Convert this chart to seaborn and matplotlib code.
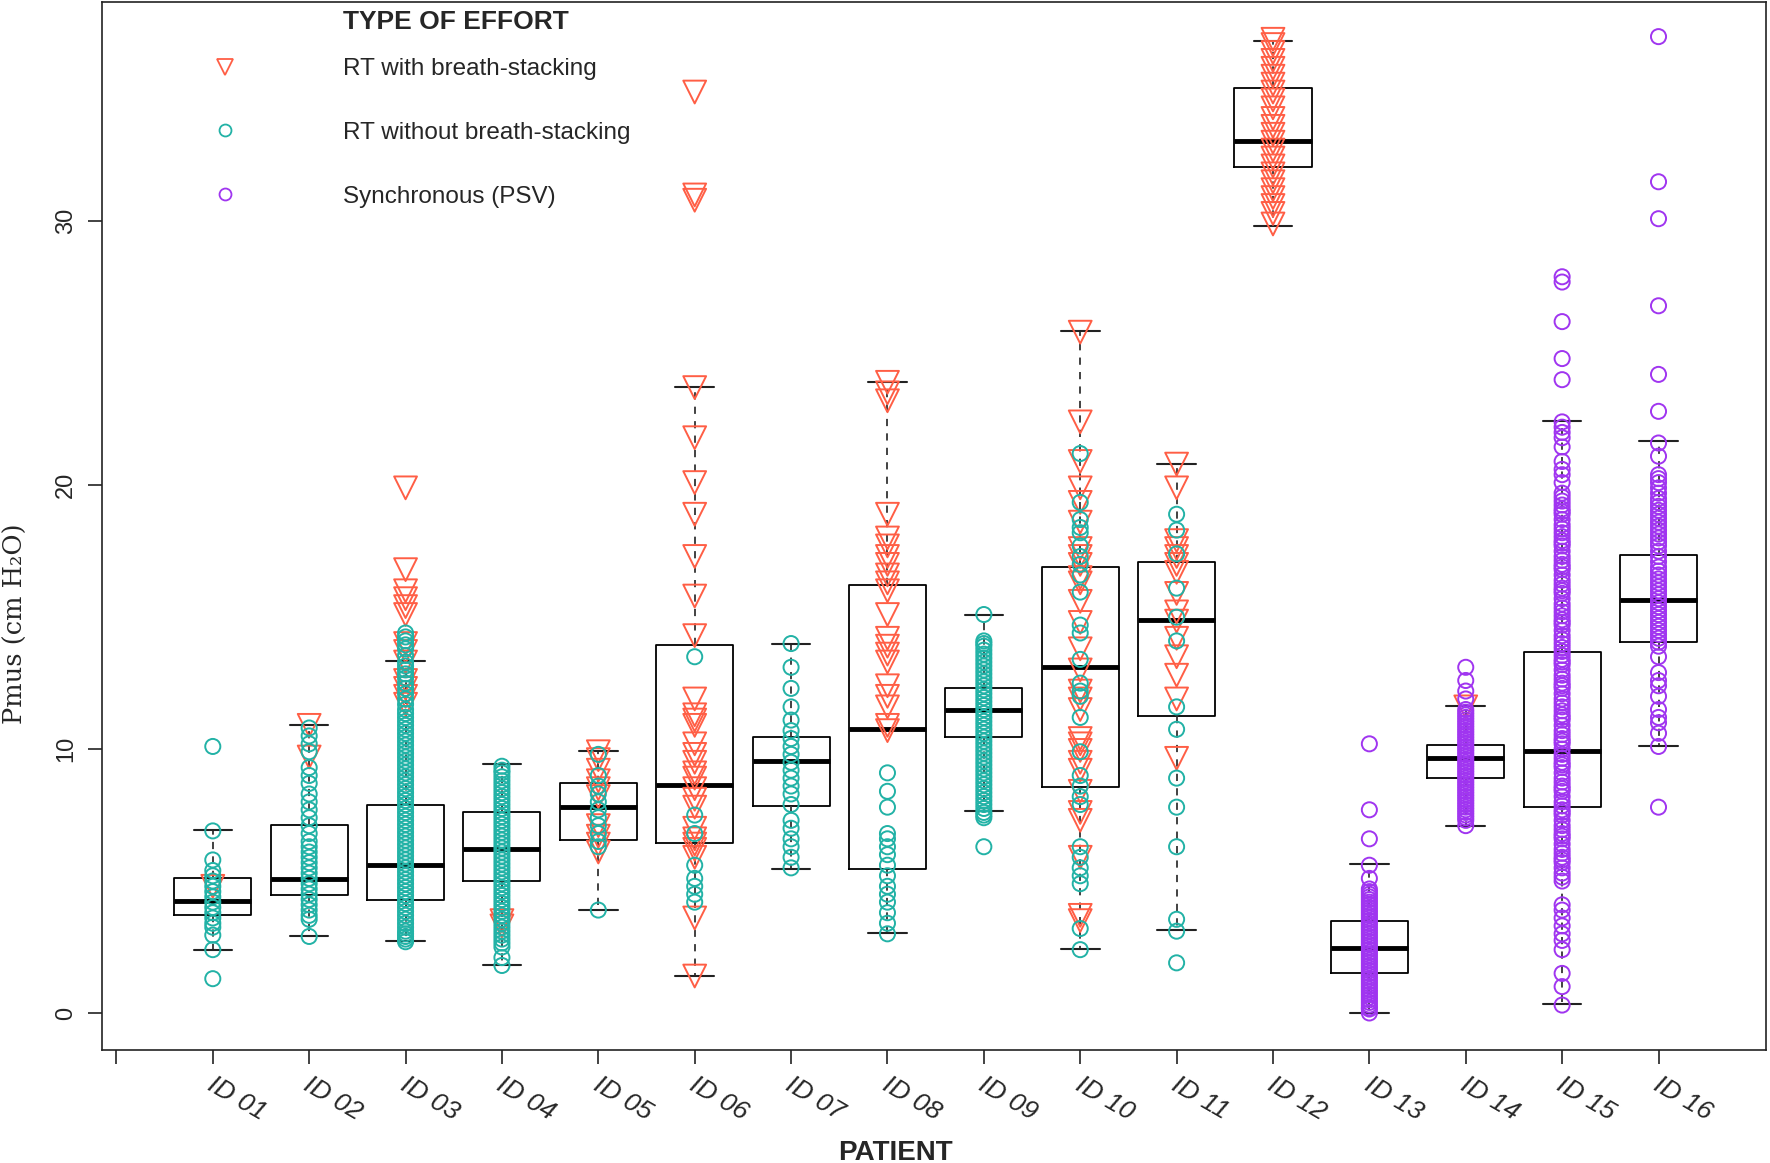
import pandas as pd
import matplotlib
matplotlib.use("Agg")
import matplotlib.pyplot as plt
import matplotlib.transforms as mtransforms
from matplotlib.lines import Line2D
import seaborn as sns

patients = ['ID 01', 'ID 02', 'ID 03', 'ID 04', 'ID 05', 'ID 06', 'ID 07', 'ID 08',
            'ID 09', 'ID 10', 'ID 11', 'ID 12', 'ID 13', 'ID 14', 'ID 15', 'ID 16']
effort_types = ['RT with breath-stacking', 'RT without breath-stacking', 'Synchronous (PSV)']
effort_colors = ['#FF5E45', '#22B2A6', '#A035F0']

# box summaries per patient
box_q1 = [3.72, 4.49, 4.3, 5.02, 6.56, 6.43, 7.83, 5.44, 10.44, 8.56, 11.25, 32.05, 1.5, 8.9, 7.79, 14.07]
box_med = [4.25, 5.09, 5.62, 6.2, 7.8, 8.64, 9.54, 10.78, 11.47, 13.1, 14.9, 33.03, 2.48, 9.67, 9.93, 15.66]
box_q3 = [5.11, 7.11, 7.9, 7.63, 8.71, 13.93, 10.44, 16.21, 12.33, 16.9, 17.09, 35.05, 3.47, 10.14, 13.67, 17.37]
whisker_lo = [2.37, 2.9, 2.71, 1.8, 3.91, 1.42, 5.44, 3.04, 7.66, 2.44, 3.13, 29.82, 0.0, 7.1, 0.34, 10.13]
whisker_hi = [6.95, 10.91, 13.33, 9.43, 9.92, 23.72, 14.0, 23.91, 15.1, 25.85, 20.82, 36.84, 5.65, 11.63, 22.42, 21.66]

# RT with breath-stacking
bs_01 = [4.8]
bs_02 = [10.9, 9.7]
bs_03 = [19.9, 16.8, 16.0, 15.7, 15.4, 15.1, 14.0, 13.7, 13.3, 12.6, 12.3, 12.0, 11.7]
bs_04 = [3.5, 3.3]
bs_05 = [9.9, 9.6, 9.2, 8.8, 8.5, 8.2, 7.1, 6.7, 6.4, 6.1]
bs_06 = [34.9, 31.0, 30.8, 23.7, 21.8, 20.1, 18.9, 17.3, 15.8, 14.3, 11.9, 11.3, 11.1, 10.9,
         10.2, 9.8, 9.5, 9.1, 8.9, 8.5, 8.1, 7.8, 7.0, 6.6, 6.4, 6.2, 5.9, 3.6, 1.4]
bs_08 = [23.9, 23.5, 23.2, 18.9, 18.0, 17.7, 17.3, 17.0, 16.6, 16.3, 16.0, 15.1, 14.2, 13.9,
         13.6, 13.3, 12.4, 12.0, 11.6, 10.9, 10.7]
bs_10 = [25.8, 22.4, 20.9, 19.9, 19.35, 18.6, 17.6, 17.3, 17.0, 16.5, 16.3, 15.6, 14.8, 13.8,
         13.0, 12.2, 11.9, 11.5, 10.4, 10.2, 9.95, 9.5, 9.2, 8.4, 7.6, 7.3, 5.9, 3.7, 3.5]
bs_11 = [20.8, 19.9, 17.9, 17.6, 17.3, 17.0, 16.7, 15.9, 15.2, 14.85, 14.2, 13.5, 12.8, 11.9, 9.65]
bs_12 = [36.9, 36.7, 36.4, 36.1, 35.8, 35.5, 35.2, 34.9, 34.6, 34.3, 33.9, 33.6, 33.3, 33.0,
         32.7, 32.4, 32.1, 31.8, 31.5, 31.2, 30.9, 30.6, 30.3, 29.9]
bs_14 = [11.6]

# RT without breath-stacking
nbs_01 = [10.1, 6.9, 5.8, 5.4, 5.2, 5.0, 4.8, 4.6, 4.4, 4.2, 4.0, 3.8, 3.6, 3.4, 3.25, 2.95, 2.4, 1.3]
nbs_02 = [10.8, 10.5, 10.2, 9.9, 9.3, 9.0, 8.7, 8.3, 8.0, 7.7, 7.4, 7.1, 6.8, 6.5, 6.3, 6.1,
          5.9, 5.7, 5.5, 5.3, 5.1, 4.9, 4.7, 4.5, 4.3, 4.1, 3.9, 3.7, 3.55, 2.9]
nbs_03 = [14.4, 14.25, 14.1, 13.95, 13.8, 13.55, 13.3, 13.15, 13.0, 12.85, 12.7, 12.5, 12.3,
          12.1, 11.9, 11.7, 11.5, 11.35, 11.2, 11.05, 10.9, 10.75, 10.6, 10.45, 10.3, 10.15,
          10.0, 9.85, 9.7, 9.55, 9.4, 9.25, 9.1, 8.95, 8.8, 8.65, 8.5, 8.35, 8.2, 8.05, 7.9,
          7.75, 7.6, 7.45, 7.3, 7.15, 7.0, 6.85, 6.7, 6.55, 6.4, 6.25, 6.1, 5.95, 5.8, 5.65,
          5.5, 5.35, 5.2, 5.05, 4.9, 4.75, 4.6, 4.45, 4.3, 4.15, 4.0, 3.85, 3.7, 3.55, 3.4,
          3.25, 3.1, 3.0, 2.9, 2.8, 2.7]
nbs_04 = [9.35, 9.2, 9.1, 8.95, 8.8, 8.65, 8.5, 8.35, 8.2, 8.05, 7.9, 7.75, 7.6, 7.45, 7.3,
          7.15, 7.0, 6.85, 6.7, 6.55, 6.4, 6.25, 6.1, 5.95, 5.8, 5.65, 5.5, 5.35, 5.2, 5.05,
          4.9, 4.75, 4.6, 4.45, 4.3, 4.15, 4.0, 3.85, 3.7, 3.55, 3.4, 3.25, 3.1, 2.95, 2.8,
          2.65, 2.5, 2.1, 1.8]
nbs_05 = [9.8, 9.0, 8.6, 8.3, 8.0, 7.7, 7.4, 7.1, 6.8, 6.5, 6.3, 3.9]
nbs_06 = [13.5, 7.5, 6.8, 5.6, 5.1, 4.8, 4.5, 4.2]
nbs_07 = [14.0, 13.1, 12.3, 11.6, 11.1, 10.7, 10.4, 10.1, 9.8, 9.5, 9.2, 8.9, 8.6, 8.3, 7.9,
          7.3, 7.0, 6.6, 6.3, 5.9, 5.5]
nbs_08 = [9.1, 8.4, 7.8, 6.8, 6.6, 6.3, 6.0, 5.6, 5.2, 4.8, 4.5, 4.2, 3.8, 3.4, 3.0]
nbs_09 = [15.1, 14.1, 14.0, 13.9, 13.75, 13.6, 13.45, 13.3, 13.15, 13.0, 12.85, 12.7, 12.55,
          12.4, 12.25, 12.1, 11.95, 11.8, 11.65, 11.5, 11.35, 11.2, 11.05, 10.9, 10.75, 10.6,
          10.45, 10.3, 10.15, 10.0, 9.85, 9.7, 9.55, 9.4, 9.25, 9.1, 8.95, 8.8, 8.65, 8.5,
          8.35, 8.2, 8.05, 7.9, 7.75, 7.6, 7.5, 7.4, 6.3]
nbs_10 = [21.2, 19.35, 18.7, 18.4, 18.2, 17.7, 17.3, 17.0, 16.6, 15.95, 14.7, 14.4, 13.4, 12.5,
          12.2, 12.0, 11.2, 9.9, 9.0, 8.6, 8.2, 7.9, 6.3, 5.9, 5.5, 5.2, 4.9, 3.2, 2.4]
nbs_11 = [18.9, 18.3, 17.4, 16.1, 15.0, 14.1, 11.6, 10.75, 8.9, 7.8, 6.3, 3.55, 3.1, 1.9]

# Synchronous (PSV)
psv_13 = [10.2, 7.7, 6.6, 5.6, 5.1, 4.7, 4.6, 4.5, 4.4, 4.3, 4.2, 4.1, 4.0, 3.9, 3.8, 3.7,
          3.6, 3.5, 3.4, 3.3, 3.2, 3.1, 3.0, 2.9, 2.8, 2.7, 2.6, 2.5, 2.4, 2.3, 2.2, 2.1, 2.0,
          1.9, 1.8, 1.7, 1.6, 1.5, 1.4, 1.3, 1.2, 1.1, 1.0, 0.9, 0.8, 0.7, 0.6, 0.5, 0.4, 0.3,
          0.2, 0.15, 0.0]
psv_14 = [13.1, 12.6, 12.2, 11.9, 11.5, 11.4, 11.3, 11.2, 11.1, 11.0, 10.9, 10.8, 10.7, 10.6,
          10.5, 10.4, 10.3, 10.2, 10.1, 10.0, 9.9, 9.8, 9.7, 9.6, 9.5, 9.4, 9.3, 9.2, 9.1, 9.0,
          8.9, 8.8, 8.7, 8.6, 8.5, 8.4, 8.3, 8.2, 8.1, 8.0, 7.9, 7.8, 7.7, 7.6, 7.5, 7.4, 7.3,
          7.1]
psv_15 = [27.9, 27.7, 26.2, 24.8, 24.0, 22.4, 22.2, 22.0, 21.8, 21.45, 20.9, 20.6, 20.4, 20.1,
          19.7, 19.55, 19.4, 19.25, 19.1, 19.0, 18.9, 18.7, 18.5, 18.35, 18.2, 18.05, 17.9,
          17.8, 17.7, 17.5, 17.3, 17.15, 17.0, 16.9, 16.8, 16.6, 16.4, 16.25, 16.1, 16.0,
          15.9, 15.7, 15.5, 15.35, 15.2, 15.05, 14.9, 14.8, 14.7, 14.5, 14.3, 14.15, 14.0,
          13.85, 13.7, 13.55, 13.4, 13.3, 13.2, 13.0, 12.8, 12.65, 12.5, 12.4, 12.3, 12.1,
          11.9, 11.75, 11.6, 11.45, 11.3, 11.2, 11.1, 10.9, 10.7, 10.55, 10.4, 10.3, 10.2,
          10.0, 9.8, 9.65, 9.5, 9.4, 9.3, 9.1, 8.9, 8.75, 8.6, 8.5, 8.4, 8.2, 8.0, 7.85, 7.7,
          7.6, 7.5, 7.3, 7.1, 6.95, 6.8, 6.7, 6.6, 6.4, 6.2, 6.05, 5.9, 5.8, 5.7, 5.5, 5.3,
          5.15, 5.0, 4.1, 3.9, 3.6, 3.3, 3.0, 2.75, 2.4, 1.5, 1.0, 0.3]
psv_16 = [37.0, 31.5, 30.1, 26.8, 24.2, 22.8, 21.6, 21.1, 20.4, 20.25, 20.1, 19.9, 19.7, 19.5,
          19.35, 19.2, 19.05, 18.9, 18.75, 18.6, 18.45, 18.3, 18.15, 18.0, 17.85, 17.7, 17.5,
          17.3, 17.1, 16.9, 16.75, 16.6, 16.45, 16.3, 16.15, 16.0, 15.85, 15.7, 15.55, 15.4,
          15.25, 15.1, 14.95, 14.8, 14.65, 14.5, 14.35, 14.2, 14.05, 13.9, 13.5, 12.9, 12.6,
          12.4, 12.0, 11.5, 11.2, 11.0, 10.6, 10.1, 7.8]

stacking = {1: bs_01, 2: bs_02, 3: bs_03, 4: bs_04, 5: bs_05, 6: bs_06, 8: bs_08,
            10: bs_10, 11: bs_11, 12: bs_12, 14: bs_14}
no_stacking = {1: nbs_01, 2: nbs_02, 3: nbs_03, 4: nbs_04, 5: nbs_05, 6: nbs_06, 7: nbs_07,
               8: nbs_08, 9: nbs_09, 10: nbs_10, 11: nbs_11}
synchronous = {13: psv_13, 14: psv_14, 15: psv_15, 16: psv_16}

rows = []
for effort, groups in zip(effort_types, [stacking, no_stacking, synchronous]):
    for pid, vals in groups.items():
        for v in vals:
            rows.append((pid, v, effort))
df = pd.DataFrame(rows, columns=['patient', 'pmus', 'effort'])

sns.set_style("ticks")
plt.rcParams['font.family'] = ['Liberation Sans', 'DejaVu Sans']
plt.rcParams['axes.linewidth'] = 1.2
plt.rcParams['axes.edgecolor'] = '#222222'

fig, ax = plt.subplots(figsize=(17.7, 11.63), dpi=100)
fig.subplots_adjust(left=0.0576, right=0.998, top=0.998, bottom=0.097)

# boxes first, points on top
stats = [dict(med=m, q1=a, q3=b, whislo=lo, whishi=hi, fliers=[])
         for m, a, b, lo, hi in zip(box_med, box_q1, box_q3, whisker_lo, whisker_hi)]
ax.bxp(stats, positions=range(1, len(patients) + 1), widths=0.8, showfliers=False,
       boxprops=dict(color='black', linewidth=1.3),
       medianprops=dict(color='black', linewidth=3.5),
       whiskerprops=dict(color='#333333', linewidth=1.3, linestyle=(0, (4, 4))),
       capprops=dict(color='#222222', linewidth=1.5))

marker_of = {effort_types[0]: ('v', 270), effort_types[1]: ('o', 118), effort_types[2]: ('o', 118)}
for effort, color in zip(effort_types, effort_colors):
    sub = df[df['effort'] == effort]
    mk, size = marker_of[effort]
    sns.scatterplot(data=sub, x='patient', y='pmus', marker=mk, s=size, color=color,
                    facecolor='none', edgecolor=color, linewidth=1.4, legend=False,
                    zorder=3, ax=ax)

ax.set_xlim(-0.15, 17.12)
ax.set_ylim(-1.41, 38.3)
ax.set_xticks(range(0, len(patients) + 1))
ax.set_xticklabels([''] + patients)
ax.set_yticks([0, 10, 20, 30])
ax.tick_params(axis='both', length=10, width=1.2, color='#222222')
ax.tick_params(axis='y', labelsize=17, labelrotation=90, pad=8)
ax.tick_params(axis='x', labelsize=19, pad=6)
for lab in ax.get_xticklabels():
    lab.set_rotation(-30)
    lab.set_ha('left')
    lab.set_va('top')
    lab.set_rotation_mode('anchor')
    lab.set_style('italic')
    lab.set_transform(lab.get_transform() + mtransforms.ScaledTranslation(2 / 72, 0, fig.dpi_scale_trans))
for lab in ax.get_yticklabels():
    lab.set_va('center')

ax.set_xlabel('PATIENT', fontsize=20, fontweight='bold')
ax.xaxis.set_label_coords(0.477, -0.086)
ax.set_ylabel('Pmus (cm H\u2082O)', fontsize=18.5, family=['DejaVu Serif', 'DejaVu Sans'])
ax.yaxis.set_label_coords(-0.0444, 0.407)

handles = [Line2D([], [], ls='', marker='v', ms=11.5, mfc='none', mec=effort_colors[0], mew=1.3),
           Line2D([], [], ls='', marker='o', ms=8.6, mfc='none', mec=effort_colors[1], mew=1.3),
           Line2D([], [], ls='', marker='o', ms=8.6, mfc='none', mec=effort_colors[2], mew=1.3)]
ax.legend(handles, effort_types, loc='upper left', bbox_to_anchor=(0.0535, 0.956),
          frameon=False, fontsize=17.5, handlelength=2, handletextpad=3.85,
          labelspacing=1.72, borderaxespad=0, borderpad=0.4)
ax.text(0.1447, 0.981, 'TYPE OF EFFORT', transform=ax.transAxes, fontsize=19,
        fontweight='bold', ha='left', va='center')

fig.savefig('out.png', dpi=100)
